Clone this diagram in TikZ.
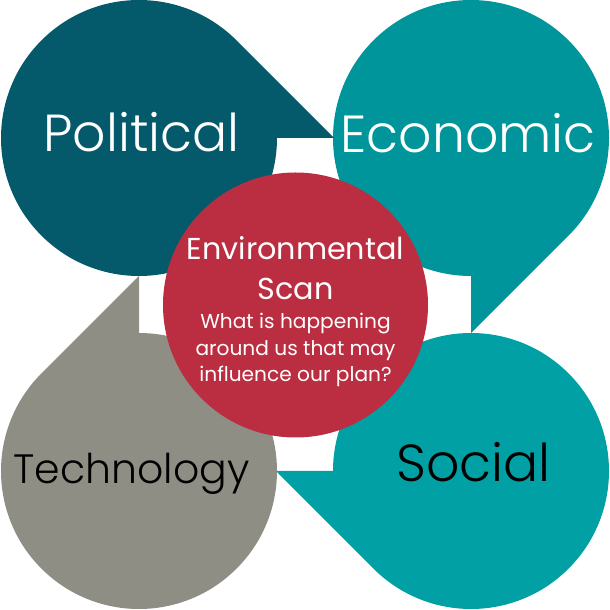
\documentclass[tikz,border=0pt]{standalone}
\usepackage{fontspec}
\setmainfont{Poppins}
\newfontfamily\lightfont{Poppins Light}
\newcommand{\petal}[3]{\fill[#3] (#1) ++(#2+45:138) arc[start angle=#2+45,delta angle=315,radius=138] -- ++(#2:57) -- cycle;}
\definecolor{political}{HTML}{04596A}
\definecolor{economic}{HTML}{00959B}
\definecolor{social}{HTML}{00A0A5}
\definecolor{technology}{HTML}{8F8E84}
\definecolor{scan}{HTML}{BB2E41}
\begin{document}
\begin{tikzpicture}[x=.3mm,y=.3mm,
  biglabel/.style={font=\lightfont\fontsize{44.5}{44.5}\selectfont,inner sep=0pt}]
\useasboundingbox (0,0)rectangle(610,610);
\coordinate (politicalc) at (139,472);
\coordinate (economicc) at (471,472);
\coordinate (socialc) at (471,139);
\coordinate (technologyc) at (139,139);
\petal{socialc}{180}{social}
\petal{economicc}{-90}{economic}
\petal{politicalc}{0}{political}
\petal{technologyc}{90}{technology}
\node[circle,fill=scan,minimum size=7.95cm,inner sep=0pt] (scan) at (295.5,305) {};
\node[biglabel,white] (politicallabel) at (141.5,478) {Political};
\node[biglabel,white] (economiclabel) at (468,477) {Economic};
\node[biglabel] (sociallabel) at (473.5,148) {Social};
\node[biglabel,font=\lightfont\fontsize{35}{35}\selectfont] (technologylabel) at (131.5,136) {Technology};
\node[white,align=center,inner sep=0pt,font=\fontsize{25.8}{34}\selectfont] (scantitle) at (295.5,342) {Environmental\\Scan};
\node[white,align=center,inner sep=0pt,font=\fontsize{17.2}{22.5}\selectfont] (scantext) at (295.5,260) {What is happening\\around us that may\\influence our plan?};
\end{tikzpicture}
\end{document}
